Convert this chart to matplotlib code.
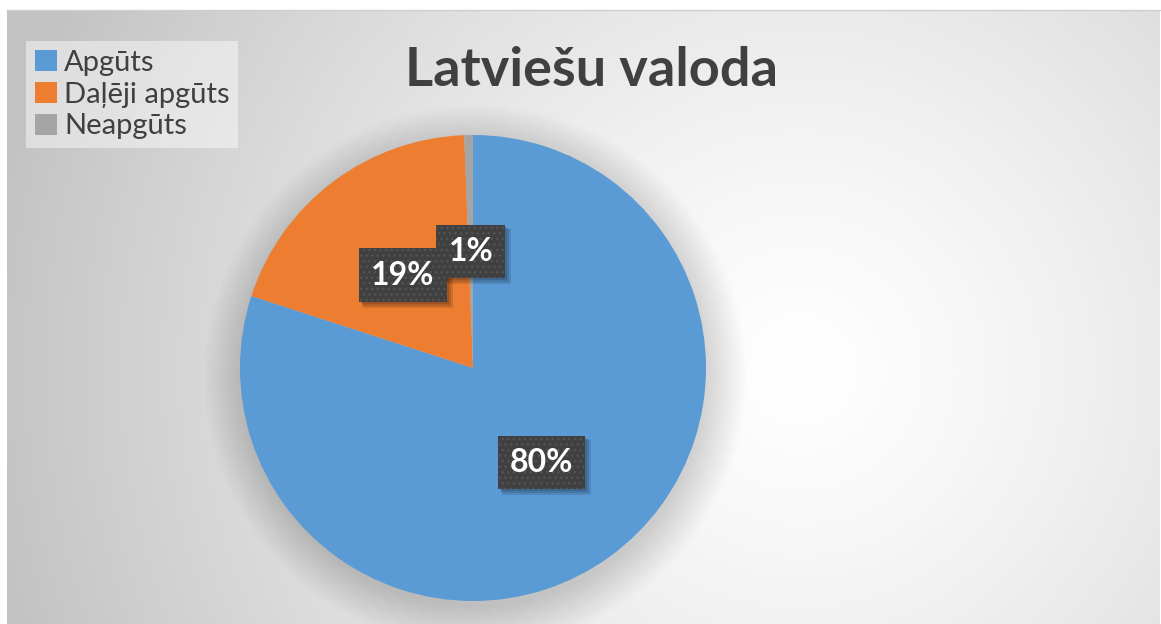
import matplotlib.pyplot as plt
from matplotlib.patches import Circle, Rectangle
import numpy as np

# data
categories = ["Apgūts", "Daļēji apgūts", "Neapgūts"]
shares = [80.0, 19.4, 0.6]
colors = ["#5b9bd5", "#ed7d31", "#a5a5a5"]
title = "Latviešu valoda"

FONT = ["Lato", "DejaVu Sans"]
TXT = "#404040"

W, H = 1161, 624
fig = plt.figure(figsize=(W / 100, H / 100), dpi=100)
fig.patch.set_facecolor("white")

# chart area background: radial gradient (white centre, grey edges)
x0, x1, y0, y1 = 7, 1160, 0, 614
bg = fig.add_axes([x0 / W, y0 / H, (x1 - x0) / W, (y1 - y0) / H])
gx, gy = np.meshgrid(np.arange(x1 - x0), np.arange(y1 - y0))
cx, cy = 800 - x0, 614 - 360
d = np.sqrt((gx - cx) ** 2 + (gy - cy) ** 2) / 820.0
v = 255 - 60 * np.clip(d, 0, 1) ** 1.3
img = np.dstack([v, v, v]) / 255.0
bg.imshow(img, origin="lower", aspect="auto", interpolation="bilinear")
bg.set_axis_off()
# thin top border line of the chart frame
fig.add_artist(plt.Line2D([x0 / W, x1 / W], [614 / H, 614 / H],
                          color="#d0d0d0", lw=1.0))

# pie axes: centre (473, 368) px from top, radius 233 px
pcx, pcy, r = 473, 624 - 368, 233
ax = fig.add_axes([(pcx - r) / W, (pcy - r) / H, 2 * r / W, 2 * r / H])
ax.set_zorder(2)

# soft shadow under the pie
for i in range(40):
    rr = 0.99 + 0.0045 * i
    ax.add_patch(Circle((0.01, -0.035), rr, color="black",
                        alpha=0.005, lw=0, clip_on=False, zorder=0))

wedges, _, autotexts = ax.pie(
    shares, colors=colors, startangle=90, counterclock=False,
    autopct="%.0f%%", pctdistance=0.5, radius=1.0,
    wedgeprops=dict(linewidth=0),
    textprops=dict(color="white", fontsize=23, fontweight="bold",
                   family=FONT),
)
for w in wedges:
    w.set_zorder(1)

for t in autotexts:
    t.set_zorder(5)
    t.set_bbox(dict(boxstyle="square,pad=0.38", facecolor="#404040",
                    edgecolor="#545454", linewidth=0, hatch="..."))

ax.set_xlim(-1, 1)
ax.set_ylim(-1, 1)
ax.set_aspect("auto")
ax.set_axis_off()

# title
fig.text(591 / W, 1 - 70 / H, title, ha="center", va="center",
         fontsize=39, fontweight="bold", color=TXT, family=FONT)

# legend
leg = fig.legend(
    wedges, categories, loc="upper left",
    bbox_to_anchor=(26 / W, 1 - 41 / H),
    frameon=True, fancybox=False, framealpha=0.45, facecolor="white",
    edgecolor="none", handlelength=0.75, handleheight=0.75,
    handletextpad=0.25, labelspacing=0.2, borderpad=0.3, borderaxespad=0,
    prop=dict(family=FONT, size=21),
)
for t in leg.get_texts():
    t.set_color(TXT)

# drop shadows behind the label boxes
fig.canvas.draw()
for t in autotexts:
    bb = t.get_bbox_patch().get_window_extent()
    for k in range(3):
        ax.add_artist(Rectangle((bb.x0 + 2 + k, bb.y0 - 2 - k - k),
                                bb.width + k, bb.height + k,
                                transform=None, facecolor="black",
                                alpha=0.12, lw=0, zorder=4, clip_on=False))

fig.savefig("out.png", dpi=100)
